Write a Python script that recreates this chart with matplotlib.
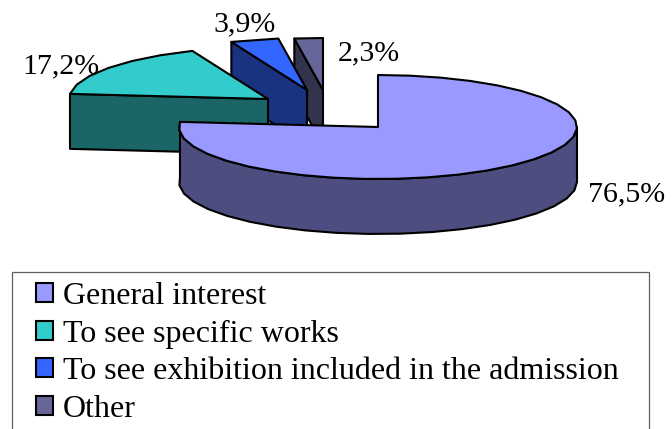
#!/usr/bin/env python
"""Exploded 3D-look pie of visit motives, drawn by hand on a pixel-sized axes."""
import matplotlib
matplotlib.use("Agg")
import matplotlib.pyplot as plt
from matplotlib.patches import Patch, Polygon, Rectangle
import numpy as np

categories = ["General interest", "To see specific works",
              "To see exhibition included in the admission", "Other"]
values = [76.5, 17.2, 3.9, 2.3]
value_labels = ["76,5%", "17,2%", "3,9%", "2,3%"]

top_colors = ["#9999FF", "#33CCCC", "#3366FF", "#666699"]
side_colors = ["#4D4D80", "#1A6666", "#1A3380", "#33334D"]

# slice apex in figure pixels (the explosion), ellipse radii and wall height
APEX = [(378, 127), (268, 99), (307, 90), (323, 90)]
RX, RY, DEPTH = 199, 52, 55
LABEL_POS = [(627, 194), (61, 66), (245, 24), (369, 53)]
LABEL_SIZE = 21.5
LW = 1.5

plt.rcParams["font.family"] = ["Liberation Serif", "DejaVu Serif"]
fig = plt.figure(figsize=(6.72, 4.29), dpi=100)
ax = fig.add_axes([0, 0, 1, 1])
ax.set_xlim(0, 672); ax.set_ylim(429, 0); ax.axis("off")


def rim(apex, a0, a1, step=9.0):
    # angles are clockwise from 12 o'clock, like the pie itself
    n = max(int(abs(a1 - a0) / step), 1) + 1
    t = np.radians(np.linspace(a0, a1, n))
    return np.column_stack([apex[0] + RX * np.sin(t), apex[1] - RY * np.cos(t)])


edges = np.concatenate([[0], np.cumsum(values) / np.sum(values) * 360])
# back slices first, the big one sits on top of everything
for i in [3, 2, 1, 0]:
    a0, a1 = edges[i], edges[i + 1]
    apex = np.array(APEX[i], dtype=float)
    arc = rim(apex, a0, a1)
    if i == 0:
        front = rim(apex, 90, a1)
        wall = np.vstack([front, (front + [0, DEPTH])[::-1]])
    else:
        # cut face running from the rim start into the apex
        wall = np.array([arc[0], apex, apex + [0, DEPTH], arc[0] + [0, DEPTH]])
    top = np.vstack([apex, arc])
    ax.add_patch(Polygon(wall, closed=True, fc=side_colors[i], ec="black", lw=LW, joinstyle="round"))
    ax.add_patch(Polygon(top, closed=True, fc=top_colors[i], ec="black", lw=LW, joinstyle="round"))

for lab, pos in zip(value_labels, LABEL_POS):
    ax.text(pos[0], pos[1], lab, fontsize=LABEL_SIZE, ha="center", va="center", color="black")

# legend box runs off the bottom of the picture
ax.add_patch(Rectangle((11.5, 272), 637.5, 170, fc="white", ec="#606060", lw=0.9))
handles = [Patch(fc=c, ec="black", lw=LW) for c in top_colors]
ax.legend(handles, categories, loc="upper left", bbox_to_anchor=(36, 282),
          bbox_transform=ax.transData, frameon=False, fontsize=23,
          handlelength=0.54, handleheight=0.54, handletextpad=0.29,
          labelspacing=0.27, borderpad=0, borderaxespad=0)

fig.savefig("out.png", dpi=100)
